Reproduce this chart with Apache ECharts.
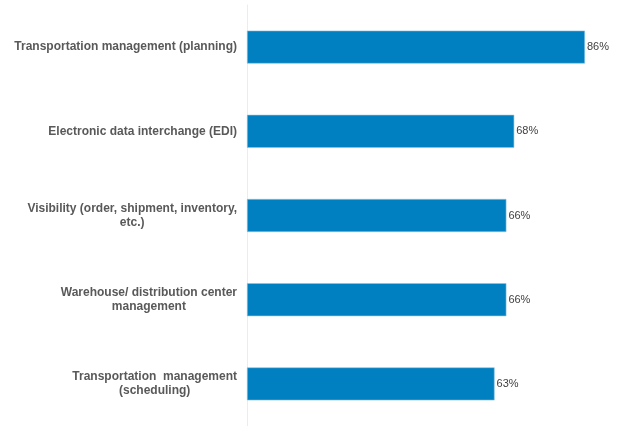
<!DOCTYPE html>
<html><head><meta charset="utf-8">
<script src="https://cdn.jsdelivr.net/npm/echarts@6/dist/echarts.min.js"></script>
<style>html,body{margin:0;padding:0;background:#fff}#c{width:640px;height:426px}</style>
</head><body><div id="c"></div>
<script>
const categories = [
  "Transportation management (planning)",
  "Electronic data interchange (EDI)",
  "Visibility (order, shipment, inventory,\netc.)",
  "Warehouse/ distribution center\nmanagement",
  "Transportation  management\n(scheduling)"
];
const values = [86, 68, 66, 66, 63];

const chart = echarts.init(document.getElementById('c'));
chart.setOption({
  animation: false,
  grid: { left: 247, right: 0, top: 5, bottom: 0, containLabel: false },
  xAxis: {
    type: 'value', min: 0, max: 100, show: false
  },
  yAxis: {
    type: 'category', data: categories, inverse: true,
    axisLine: { show: true, lineStyle: { color: '#ececec', width: 1 } },
    axisTick: { show: false },
    axisLabel: {
      margin: 10,
      formatter: function (v) {
        return v.split('\n').map(function (l) { return '{a|' + l + '}'; }).join('\n');
      },
      rich: {
        a: {
          align: 'center', fontFamily: 'Liberation Sans, Arial, sans-serif',
          fontSize: 12, fontWeight: 'bold', color: '#595959', lineHeight: 14
        }
      }
    }
  },
  series: [{
    type: 'bar', data: values, barWidth: 33,
    itemStyle: { color: '#0080c0', borderColor: '#8cc4e6', borderWidth: 0.6 },
    label: {
      show: true, position: 'right', distance: 2,
      formatter: '{c}%',
      fontFamily: 'Liberation Sans, Arial, sans-serif',
      fontSize: 11, color: '#404040'
    }
  }]
});
</script></body></html>
